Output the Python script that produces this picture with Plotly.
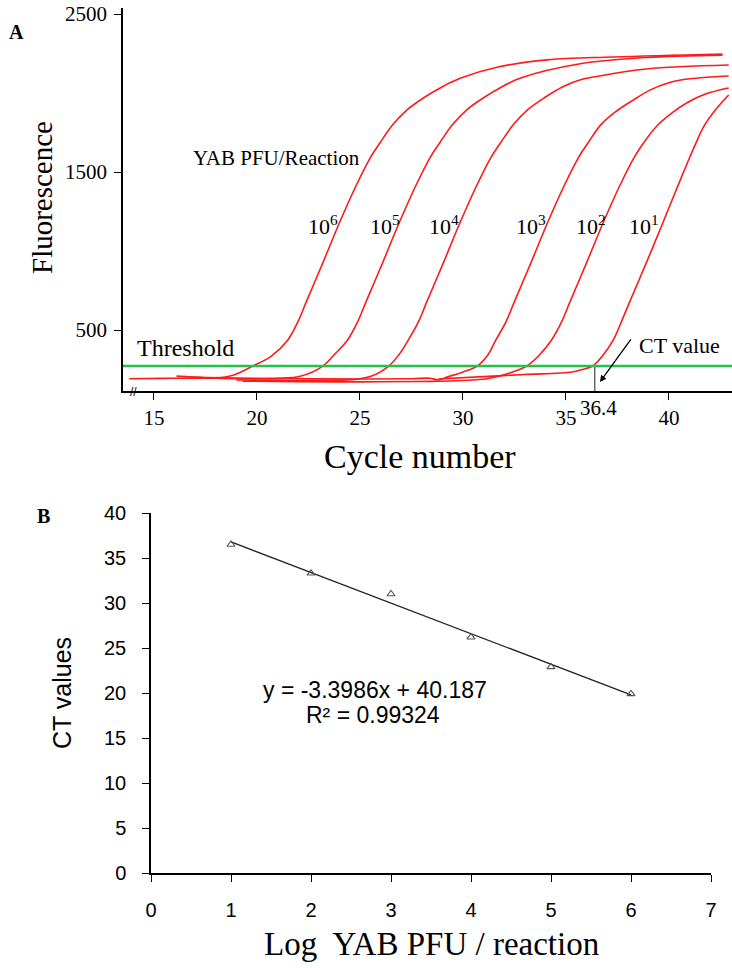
import plotly.graph_objects as go

# ---------------- Panel A data (amplification curves) ----------------
labels = ["10<sup>6</sup>", "10<sup>5</sup>", "10<sup>4</sup>", "10<sup>3</sup>", "10<sup>2</sup>", "10<sup>1</sup>"]

c_1e6 = [13.8, 15.5, 17.0, 17.9, 18.8, 19.8, 20.7, 21.5, 22.0, 22.4, 23.2, 24.0, 24.8, 25.5, 26.0, 26.6, 27.3, 28.1, 29.0, 29.9, 31.7, 34.1, 37.3, 42.6]
f_1e6 = [192, 194, 195, 196, 212, 272, 335, 437, 555, 680, 925, 1177, 1410, 1590, 1690, 1800, 1895, 1970, 2040, 2095, 2165, 2210, 2228, 2247]

c_1e5 = [16.1, 17.5, 19.0, 21.0, 22.1, 23.2, 23.8, 24.4, 24.9, 25.3, 26.1, 26.9, 27.7, 28.4, 28.9, 29.5, 30.2, 31.0, 31.9, 32.8, 35.7, 38.9, 42.6]
f_1e5 = [208, 198, 192, 194, 207, 272, 350, 437, 555, 680, 925, 1177, 1410, 1590, 1690, 1800, 1895, 1970, 2040, 2095, 2185, 2225, 2240]

c_1e4 = [19.0, 21.0, 23.0, 24.6, 25.5, 26.4, 26.9, 27.35, 27.85, 28.25, 29.05, 29.85, 30.65, 31.35, 31.85, 32.45, 33.15, 33.95, 34.85, 35.75, 36.5, 38.9, 42.9]
f_1e4 = [184, 181, 180, 186, 205, 272, 345, 437, 555, 680, 925, 1177, 1410, 1590, 1690, 1800, 1895, 1970, 2040, 2085, 2105, 2152, 2177]

c_1e3 = [16.8, 19.0, 22.0, 25.0, 27.5, 28.4, 28.8, 29.3, 30.0, 30.7, 31.2, 31.6, 32.1, 32.5, 33.3, 34.1, 34.9, 35.6, 36.1, 36.7, 37.4, 38.2, 39.1, 40.0, 41.0, 42.9]
f_1e3 = [200, 196, 192, 190, 192, 195, 184, 205, 235, 272, 340, 437, 555, 680, 925, 1177, 1410, 1590, 1690, 1800, 1880, 1950, 2020, 2065, 2090, 2108]

c_1e2 = [19.3, 22.0, 25.0, 28.0, 30.0, 31.3, 32.2, 33.1, 33.7, 34.3, 34.8, 35.2, 36.0, 36.8, 37.6, 38.3, 38.8, 39.4, 40.1, 40.9, 41.8, 42.9]
f_1e2 = [176, 173, 172, 174, 180, 195, 225, 272, 340, 437, 555, 680, 925, 1177, 1410, 1590, 1690, 1790, 1870, 1940, 1995, 2032]

c_1e1 = [28.8, 31.0, 33.0, 35.3, 35.8, 36.3, 36.8, 37.3, 37.7, 38.1, 38.9, 39.7, 40.3, 40.9, 41.3, 41.7, 42.3, 42.9]
f_1e1 = [190, 205, 218, 234, 250, 272, 340, 437, 555, 680, 925, 1177, 1370, 1560, 1680, 1790, 1900, 1987]

curves_c = [c_1e6, c_1e5, c_1e4, c_1e3, c_1e2, c_1e1]
curves_f = [f_1e6, f_1e5, f_1e4, f_1e3, f_1e2, f_1e1]

# curve label anchor positions (cycle, fluorescence)
label_cycle = [23.2, 26.2, 29.1, 33.3, 36.2, 38.8]
label_fluor = [1165, 1165, 1165, 1165, 1165, 1165]

threshold = 272
ct_example = 36.4
a_xrange = [13.5, 43.06]
a_yrange = [114, 2538]
a_xticks = [15, 20, 25, 30, 35, 40]
a_yticks = [500, 1500, 2500]

# ---------------- Panel B data (standard curve) ----------------
log_pfu = [1, 2, 3, 4, 5, 6]
ct_values = [36.5, 33.3, 31.0, 26.2, 22.9, 19.9]
slope = -3.3986
intercept = 40.187
r2 = 0.99324
b_xticks = [0, 1, 2, 3, 4, 5, 6, 7]
b_yticks = [0, 5, 10, 15, 20, 25, 30, 35, 40]

W, H = 732, 968
SERIF = "Liberation Serif"
SANS = "Liberation Sans"

fig = go.Figure()

for cx, fy in zip(curves_c, curves_f):
    fig.add_trace(go.Scatter(x=cx, y=fy, mode="lines",
                             line=dict(color="#ff1a1a", width=1.6, shape="spline", smoothing=1.0),
                             xaxis="x", yaxis="y", showlegend=False, hoverinfo="skip"))

# CT vertical marker
fig.add_trace(go.Scatter(x=[ct_example, ct_example], y=[a_yrange[0], threshold], mode="lines",
                         line=dict(color="#444444", width=1.2), xaxis="x", yaxis="y",
                         showlegend=False, hoverinfo="skip"))

# Panel B trend line
fit_x = [log_pfu[0], log_pfu[-1]]
fit_y = [slope * v + intercept for v in fit_x]
fig.add_trace(go.Scatter(x=fit_x, y=fit_y, mode="lines", line=dict(color="#222222", width=1.3),
                         xaxis="x2", yaxis="y2", showlegend=False, hoverinfo="skip"))
fig.add_trace(go.Scatter(x=log_pfu, y=ct_values, mode="markers",
                         marker=dict(symbol="triangle-up-open", size=7, color="#555555",
                                     line=dict(width=1.1, color="#555555")),
                         xaxis="x2", yaxis="y2", showlegend=False, hoverinfo="skip"))

# threshold line
fig.add_shape(type="line", xref="x domain", yref="y", x0=0, x1=1, y0=threshold, y1=threshold,
              line=dict(color="#22c24c", width=2.5))

def px(x):
    return x / W

def py(y):
    return 1 - y / H

axis_common = dict(showgrid=False, zeroline=False, showline=True, linecolor="black",
                   ticks="outside", tickcolor="black", ticklen=7, tickwidth=1.2, automargin=False)

fig.update_layout(
    width=W, height=H, autosize=False,
    margin=dict(l=0, r=0, t=0, b=0, pad=0),
    paper_bgcolor="white", plot_bgcolor="white",
    xaxis=dict(domain=[px(123), 1.0], range=a_xrange, tickvals=a_xticks, linewidth=1.5,
               tickfont=dict(family=SERIF, size=21, color="black"), anchor="y",
               ticklabelstandoff=0, **axis_common),
    yaxis=dict(domain=[py(391), py(8)], range=a_yrange, tickvals=a_yticks, linewidth=1.5,
               tickfont=dict(family=SERIF, size=21, color="black"), anchor="x",
               ticklabelstandoff=3, **axis_common),
    xaxis2=dict(domain=[px(151), px(711)], range=[0, 7], tickvals=b_xticks, linewidth=1.5,
                tickfont=dict(family=SANS, size=20, color="black"), anchor="y2",
                ticklabelstandoff=11, **axis_common),
    yaxis2=dict(domain=[py(873), py(513)], range=[0, 40], tickvals=b_yticks, linewidth=1.5,
                tickfont=dict(family=SANS, size=20, color="black"), anchor="x2",
                ticklabelstandoff=12, **axis_common),
)

ann = []

def add(text, x, y, xref="paper", yref="paper", font=None, **kw):
    d = dict(text=text, x=x, y=y, xref=xref, yref=yref, showarrow=False,
             xanchor="center", yanchor="middle", font=font)
    d.update(kw)
    ann.append(d)

# panel letters
add("<b>A</b>", px(16), py(32), font=dict(family=SERIF, size=20, color="black"))
add("<b>B</b>", px(43), py(516), font=dict(family=SERIF, size=20, color="black"))
# axis titles
add("Fluorescence", px(42), py(198), font=dict(family=SERIF, size=29, color="black"), textangle=-90)
add("Cycle number", px(420), py(457), font=dict(family=SERIF, size=34, color="black"))
add("CT values", px(62), py(693), font=dict(family=SANS, size=25, color="black"), textangle=-90)
add("Log\u00a0 YAB PFU / reaction", px(431), py(944), font=dict(family=SERIF, size=33, color="black"))
# panel A texts
add("YAB PFU/Reaction", 20.97, 1589, "x", "y", font=dict(family=SERIF, size=21, color="black"))
add("Threshold", 16.55, 386, "x", "y", font=dict(family=SERIF, size=24, color="black"))
add("CT value", 40.5, 399, "x", "y", font=dict(family=SERIF, size=22, color="black"))
ann.append(dict(text="", x=36.65, y=171, xref="x", yref="y", showarrow=True, ax=32, ay=-44,
                arrowhead=2, arrowsize=1, arrowwidth=1.3, arrowcolor="black"))
add(str(ct_example), ct_example + 0.2, py(408), "x", "paper", font=dict(family=SERIF, size=21, color="black"))
add("//", px(133), py(392), font=dict(family=SANS, size=12, color="black"))
for lab, lx, ly in zip(labels, label_cycle, label_fluor):
    add(lab, lx, ly, "x", "y", font=dict(family=SERIF, size=22, color="black"))
# panel B equation
add(f"y = {slope}x + {intercept}", 2.8, 20.33, "x2", "y2", font=dict(family=SANS, size=23, color="black"))
add(f"R² = {r2}", 2.78, 17.56, "x2", "y2", font=dict(family=SANS, size=23, color="black"))

fig.update_layout(annotations=ann)
fig.write_html("out.html", config={"displayModeBar": False},
               post_script="document.body.style.margin='0px';document.body.style.padding='0px';")
